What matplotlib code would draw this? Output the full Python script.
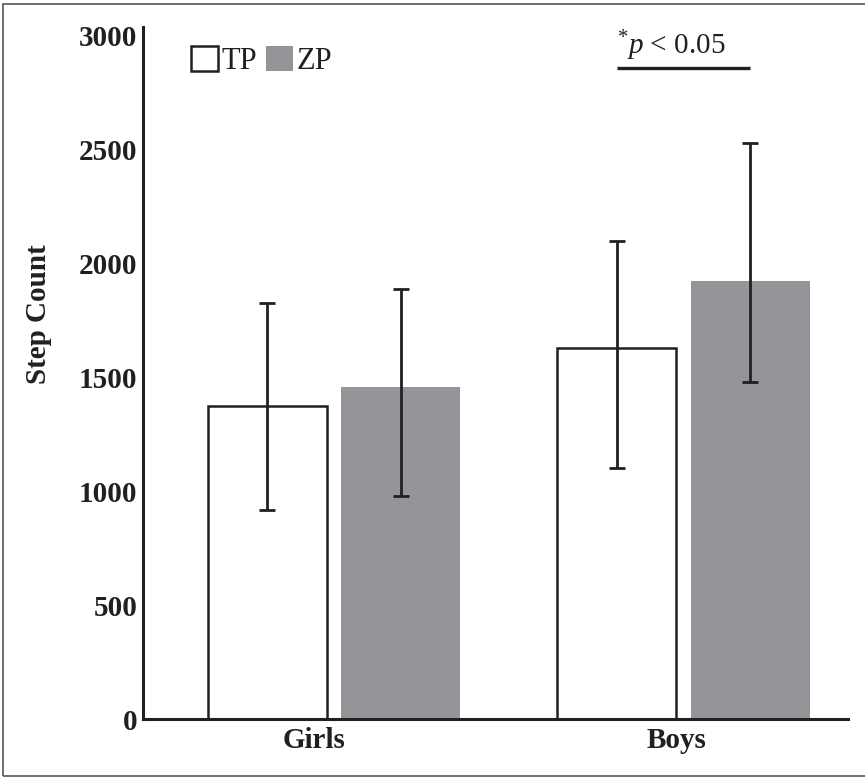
import matplotlib
matplotlib.use("Agg")
import matplotlib.pyplot as plt
from matplotlib.patches import Rectangle
import numpy as np

# %%
# Data
groups = ["Girls", "Boys"]
series = ["TP", "ZP"]
tp_mean = [1375, 1627]
zp_mean = [1457, 1922]
tp_err_low = [458, 527]
tp_err_high = [450, 472]
zp_err_low = [479, 443]
zp_err_high = [431, 605]
yticks = [0, 500, 1000, 1500, 2000, 2500, 3000]
sig_text = r"$^{*}p$ < 0.05"

# %%
# Style
plt.rcParams["font.family"] = ["Liberation Serif", "DejaVu Serif"]
plt.rcParams["mathtext.fontset"] = "custom"
plt.rcParams["mathtext.rm"] = "Liberation Serif"
plt.rcParams["mathtext.it"] = "Liberation Serif:italic"

ink = "#231f20"
gray = "#939598"

fig = plt.figure(figsize=(8.65, 7.77), dpi=100)
ax = fig.add_axes([143 / 865, 58 / 777, 705 / 865, 692 / 777])

x = np.arange(len(groups))
width = 0.34
off = 0.191
err_kw = dict(ecolor=ink, elinewidth=2.0, capsize=6, capthick=2.0)

b_tp = ax.bar(x - off, tp_mean, width, color="white", edgecolor=ink, linewidth=1.8,
              yerr=[tp_err_low, tp_err_high], error_kw=err_kw, label=series[0])
b_zp = ax.bar(x + off, zp_mean, width, color=gray, edgecolor="none",
              yerr=[zp_err_low, zp_err_high], error_kw=err_kw, label=series[1])

ax.set_xlim(-0.546, 1.471)
ax.set_ylim(0, 3036)

ax.set_yticks(yticks)
ax.set_yticklabels([str(v) for v in yticks], fontsize=21, fontweight="bold", color=ink)
ax.tick_params(axis="y", length=0, pad=4)
ax.set_xticks(x - np.array([0.057, 0.02]))
ax.set_xticklabels(groups, fontsize=21, fontweight="bold", color=ink)
ax.tick_params(axis="x", length=0, pad=6)

for s in ["top", "right"]:
    ax.spines[s].set_visible(False)
for s in ["left", "bottom"]:
    ax.spines[s].set_linewidth(2.2)
    ax.spines[s].set_color(ink)

fig.text(39 / 865, 1 - 314 / 777, "Step Count", rotation=90, ha="center", va="center",
         fontsize=21, fontweight="bold", color=ink)

# legend
ax.legend(loc="upper left", bbox_to_anchor=(0.068, 0.972), ncol=2, frameon=False,
          fontsize=22, handlelength=0.88, handleheight=0.88, handletextpad=0.12,
          columnspacing=0.3, borderpad=0, borderaxespad=0, labelcolor=ink)

# significance marker over the boys
ax.plot([x[1] - off, x[1] + off], [2857, 2857], color=ink, linewidth=2.4,
        solid_capstyle="butt")
ax.text(x[1] - off, 2918, sig_text, ha="left", va="baseline", fontsize=21, color=ink)

# outer frame
fig.add_artist(Rectangle((2.5 / 865, 1.5 / 777), 1.05, 1 - 5.5 / 777,
                         transform=fig.transFigure, fill=False,
                         edgecolor="#555555", linewidth=1.2))

fig.savefig("out.png", dpi=100)
